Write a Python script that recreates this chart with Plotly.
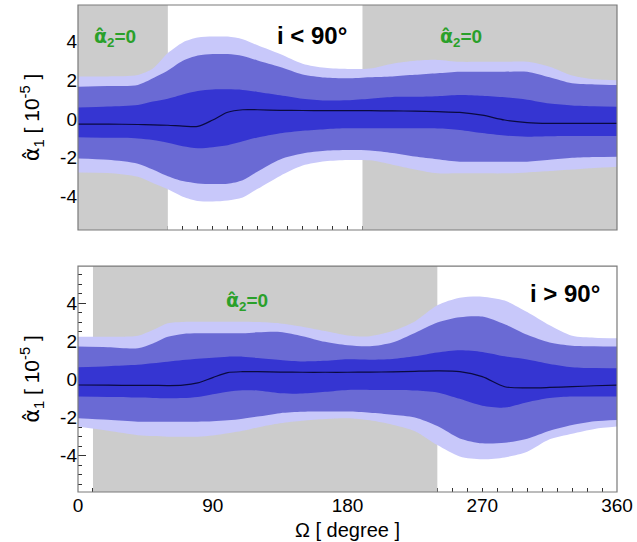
import plotly.graph_objects as go

# ---------------- data ----------------
omega = [0, 20, 40, 50, 60, 70, 80, 90, 100, 110, 120, 135, 150, 165, 180,
         195, 210, 225, 240, 255, 270, 285, 300, 315, 330, 345, 360]

# top panel (i < 90 deg): 3-sigma, 2-sigma, 1-sigma bounds and central value
top_u3 = [2.2, 2.2, 2.27, 2.6, 3.4, 3.95, 4.2, 4.25, 4.25, 4.12, 3.8, 3.35, 2.85, 2.64, 2.58,
          2.6, 2.85, 3.0, 3.05, 2.95, 2.95, 2.95, 2.95, 2.7, 2.25, 2.05, 2.0]
top_u2 = [1.67, 1.7, 1.76, 2.1, 2.5, 3.0, 3.27, 3.35, 3.35, 3.25, 3.02, 2.68, 2.3, 2.14, 2.1,
          2.16, 2.2, 2.28, 2.36, 2.44, 2.44, 2.44, 2.44, 2.15, 1.84, 1.78, 1.75]
top_u1 = [0.6, 0.65, 0.73, 0.9, 1.05, 1.27, 1.45, 1.52, 1.53, 1.5, 1.4, 1.23, 1.05, 0.96, 0.97,
          1.05, 1.14, 1.15, 1.18, 1.24, 1.2, 1.12, 1.0, 0.8, 0.7, 0.66, 0.64]
top_c = [-0.26, -0.26, -0.28, -0.3, -0.32, -0.36, -0.38, -0.05, 0.35, 0.48, 0.48, 0.45, 0.44, 0.43, 0.43,
         0.43, 0.42, 0.41, 0.38, 0.34, 0.2, -0.05, -0.18, -0.22, -0.22, -0.22, -0.22]
top_l1 = [-0.94, -0.97, -1.0, -1.08, -1.22, -1.4, -1.5, -1.45, -1.35, -1.15, -0.95, -0.73, -0.6, -0.52, -0.48,
          -0.48, -0.48, -0.48, -0.49, -0.56, -0.72, -0.85, -0.91, -0.89, -0.88, -0.88, -0.88]
top_l2 = [-2.03, -2.1, -2.3, -2.6, -2.95, -3.2, -3.32, -3.35, -3.33, -3.15, -2.7, -2.08, -1.78, -1.64, -1.6,
          -1.62, -1.75, -1.93, -2.07, -2.2, -2.2, -2.2, -2.2, -2.1, -2.0, -1.96, -1.94]
top_l3 = [-2.75, -2.78, -2.98, -3.3, -3.62, -4.0, -4.22, -4.25, -4.2, -4.05, -3.6, -2.93, -2.4, -2.18, -2.11,
          -2.13, -2.35, -2.6, -2.8, -2.8, -2.8, -2.8, -2.75, -2.68, -2.6, -2.52, -2.46]

# bottom panel (i > 90 deg)
bot_u3 = [2.25, 2.25, 2.3, 2.6, 2.96, 3.03, 3.04, 3.04, 3.04, 3.04, 3.02, 2.95, 2.78, 2.55, 2.32,
          2.28, 2.55, 3.05, 3.9, 4.3, 4.36, 4.15, 3.55, 2.85, 2.3, 2.2, 2.17]
bot_u2 = [1.73, 1.7, 1.65, 1.9, 2.25, 2.4, 2.43, 2.43, 2.43, 2.43, 2.48, 2.5, 2.28, 1.98, 1.8,
          1.75, 1.95, 2.45, 3.0, 3.28, 3.31, 2.9, 2.35, 1.95, 1.78, 1.75, 1.73]
bot_u1 = [0.64, 0.7, 0.77, 0.85, 0.93, 1.02, 1.09, 1.15, 1.2, 1.2, 1.13, 1.03, 0.95, 0.98, 1.06,
          1.04, 1.08, 1.22, 1.42, 1.54, 1.45, 1.22, 1.05, 0.82, 0.65, 0.6, 0.59]
bot_c = [-0.29, -0.3, -0.31, -0.31, -0.32, -0.3, -0.18, 0.1, 0.36, 0.41, 0.41, 0.39, 0.38, 0.38, 0.38,
         0.39, 0.4, 0.43, 0.45, 0.41, 0.15, -0.38, -0.44, -0.42, -0.38, -0.33, -0.3]
bot_l1 = [-0.9, -0.92, -0.95, -0.97, -0.99, -0.98, -0.92, -0.78, -0.64, -0.57, -0.58, -0.72, -0.74, -0.65, -0.55,
          -0.55, -0.55, -0.58, -0.68, -1.02, -1.38, -1.48, -1.2, -0.98, -0.9, -0.9, -0.9]
bot_l2 = [-2.04, -2.12, -2.22, -2.22, -2.22, -2.22, -2.22, -2.2, -2.15, -2.06, -1.95, -1.77, -1.7, -1.69, -1.69,
          -1.75, -1.85, -2.0, -2.45, -3.1, -3.36, -3.33, -3.12, -2.7, -2.4, -2.2, -2.13]
bot_l3 = [-2.48, -2.7, -2.93, -2.98, -3.01, -3.01, -3.01, -2.95, -2.83, -2.7, -2.52, -2.3, -2.17, -2.08, -2.04,
          -2.15, -2.38, -2.72, -3.45, -4.05, -4.2, -4.1, -3.8, -3.15, -2.85, -2.6, -2.48]

# regions where alpha2 = 0 (grey)
top_zero_regions = [(0, 60), (190, 360)]
bot_zero_regions = [(10, 240)]

x_tick_vals = list(range(0, 361, 10))
x_tick_labels = {0: "0", 90: "90", 180: "180", 270: "270", 360: "360"}
y_tick_vals = [-4, -2, 0, 2, 4]
y_tick_text = ["-4", "-2", "0", "2", "4"]

top_yrange = [-5.72, 5.88]
bot_yrange = [-5.92, 5.97]

# ---------------- styling ----------------
GREY = "#cccccc"
LIGHT = "#c8c8fa"
MEDIUM = "#6a6ad4"
DARK = "#3535d2"
FONT = "Liberation Sans, Arial, Helvetica, sans-serif"
HAT_ALPHA = "<span style='font-family:DejaVu Sans'>α̂</span>"

fig = go.Figure()


def add_panel(xa, ya, yrange, regions, u3, u2, u1, c, l1, l2, l3):
    for a, b in regions:
        fig.add_trace(go.Scatter(
            x=[a, b, b, a, a], y=[yrange[0], yrange[0], yrange[1], yrange[1], yrange[0]],
            mode="lines", fill="toself", fillcolor=GREY, line=dict(width=0),
            hoverinfo="skip", showlegend=False, xaxis=xa, yaxis=ya))
    for lo, hi, col in [(l3, u3, LIGHT), (l2, u2, MEDIUM), (l1, u1, DARK)]:
        fig.add_trace(go.Scatter(x=omega, y=lo, mode="lines",
                                 line=dict(width=0, shape="spline", smoothing=0.8),
                                 hoverinfo="skip", showlegend=False, xaxis=xa, yaxis=ya))
        fig.add_trace(go.Scatter(x=omega, y=hi, mode="lines", fill="tonexty", fillcolor=col,
                                 line=dict(width=0, shape="spline", smoothing=0.8),
                                 hoverinfo="skip", showlegend=False, xaxis=xa, yaxis=ya))
    fig.add_trace(go.Scatter(x=omega, y=c, mode="lines",
                             line=dict(width=1.2, color="#0a0a40", shape="spline", smoothing=0.8),
                             hoverinfo="skip", showlegend=False, xaxis=xa, yaxis=ya))


add_panel("x", "y", top_yrange, top_zero_regions,
          top_u3, top_u2, top_u1, top_c, top_l1, top_l2, top_l3)
add_panel("x2", "y2", bot_yrange, bot_zero_regions,
          bot_u3, bot_u2, bot_u1, bot_c, bot_l1, bot_l2, bot_l3)

xcommon = dict(range=[0, 360], showgrid=False, zeroline=False, showline=False,
               tickmode="array", tickvals=x_tick_vals,
               ticks="inside", ticklen=4, tickcolor="#333", tickwidth=1,
               layer="below traces",
               tickfont=dict(family=FONT, size=19, color="black"))
ycommon = dict(showgrid=False, zeroline=False, showline=False,
               tickmode="array", tickvals=y_tick_vals, ticktext=y_tick_text,
               ticks="inside", ticklen=8, tickcolor="#333", tickwidth=1,
               minor=dict(dtick=0.5, ticks="inside", ticklen=4, tickcolor="#333"),
               layer="below traces",
               tickfont=dict(family=FONT, size=19, color="black"),
               title=dict(text=HAT_ALPHA + "<sub>1</sub> [ 10<sup>-5</sup> ]",
                          font=dict(family=FONT, size=21, color="black"), standoff=14))

fig.update_layout(
    width=637, height=542,
    margin=dict(l=78, r=20, t=5, b=50),
    paper_bgcolor="white", plot_bgcolor="white",
    showlegend=False,
    xaxis=dict(xcommon, domain=[0, 1], anchor="y", showticklabels=False),
    yaxis=dict(ycommon, domain=[0.538, 1], anchor="x", range=top_yrange),
    xaxis2=dict(xcommon, domain=[0, 1], anchor="y2",
                ticktext=[x_tick_labels.get(v, "") for v in x_tick_vals],
                title=dict(text="Ω [ degree ]", font=dict(family=FONT, size=20, color="black"),
                           standoff=7)),
    yaxis2=dict(ycommon, domain=[0, 0.464], anchor="x2", range=bot_yrange),
)

# frames
for xr, yr in [("x domain", "y domain"), ("x2 domain", "y2 domain")]:
    fig.add_shape(type="rect", xref=xr, yref=yr, x0=0, x1=1, y0=0, y1=1,
                  line=dict(color="#7a7a7a", width=1.2), layer="above")

GREEN = "#2aa02a"
GREEN_TXT = "<b>" + HAT_ALPHA + "<sub>2</sub>=0</b>"
ann = [
    ("x", "y", 25, 4.2, GREEN_TXT, GREEN, 19),
    ("x", "y", 256, 4.2, GREEN_TXT, GREEN, 19),
    ("x", "y", 156, 4.33, "<b>i < 90°</b>", "black", 24),
    ("x2", "y2", 113, 4.08, GREEN_TXT, GREEN, 19),
    ("x2", "y2", 325, 4.55, "<b>i > 90°</b>", "black", 24),
]
for xr, yr, xv, yv, txt, col, sz in ann:
    fig.add_annotation(xref=xr, yref=yr, x=xv, y=yv, text=txt, showarrow=False,
                       font=dict(family=FONT, size=sz, color=col))

fig.write_html("out.html", config={"displayModeBar": False},
               post_script="document.body.style.margin='0';")
